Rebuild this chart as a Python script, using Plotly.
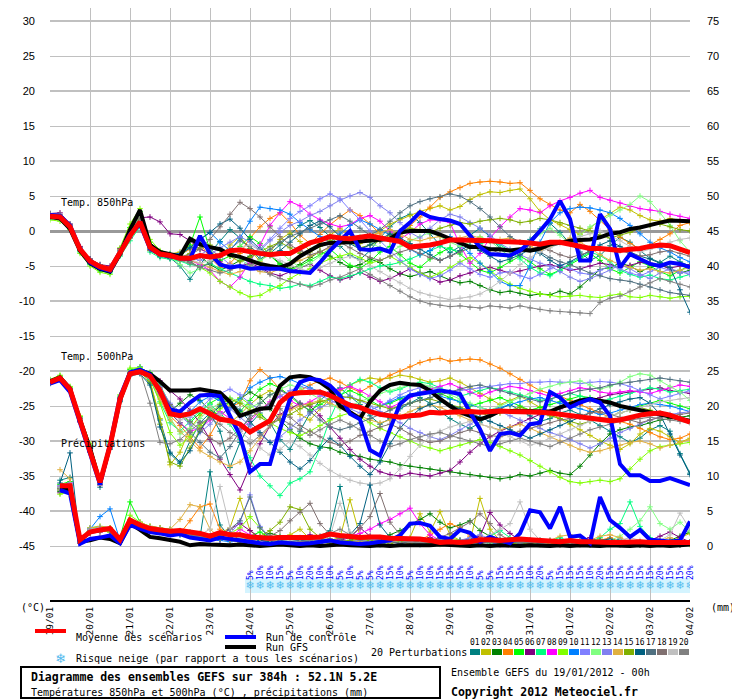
import plotly.graph_objects as go

# ---------------- DATA ----------------
hours = list(range(0, 385, 6))                 # 0..384 h, every 6 h (65 steps)
day_hours = list(range(0, 385, 24))
day_labels = ["19/01", "20/01", "21/01", "22/01", "23/01", "24/01", "25/01", "26/01", "27/01",
              "28/01", "29/01", "30/01", "31/01", "01/02", "02/02", "03/02", "04/02"]
pr_hours = hours[1:]                           # precipitation starts at +6 h

member_names = ["%02d" % i for i in range(1, 21)]
member_colors = ["#008080", "#c0c000", "#008000", "#ff8000", "#00ff00", "#800080", "#00ff80",
                 "#ff00ff", "#80ff00", "#0080ff", "#8080ff", "#80ff80", "#8080f0", "#e0b040",
                 "#80b000", "#006080", "#507080", "#807070", "#c0c0c0", "#808080"]

# --- 850 hPa temperature (degC) ---
t850_mean = [2.1, 2.0, 0.6, -2.6, -4.3, -5.1, -5.5, -3.0, -0.7, 1.3,
             -2.3, -3.3, -3.5, -3.9, -3.9, -3.5, -3.7, -3.5, -2.8, -2.7,
             -3.0, -3.2, -3.4, -3.2, -3.2, -2.4, -1.7, -1.3, -0.8, -1.0,
             -1.1, -0.9, -0.7, -1.0, -1.2, -1.5, -2.3, -2.2, -2.0, -1.7,
             -1.3, -1.3, -1.3, -1.4, -1.4, -1.5, -1.5, -1.6, -1.7, -1.9,
             -1.6, -1.6, -1.9, -2.2, -2.5, -2.5, -2.6, -2.8, -2.6, -2.5,
             -2.2, -2.0, -2.1, -2.6, -3.1]
t850_ctrl = [2.3, 2.2, 0.8, -2.5, -4.5, -5.3, -5.7, -3.2, -0.5, 1.0,
             -2.5, -3.3, -3.6, -3.9, -4.0, -0.7, -3.2, -4.8, -5.2, -5.0,
             -5.4, -5.3, -5.4, -5.4, -5.7, -5.9, -6.0, -4.5, -2.8, -1.4,
             0.0, -2.6, -2.7, -2.5, -3.0, 0.0, 1.2, 2.7, 2.0, 1.7,
             1.5, 1.0, -0.7, -2.3, -3.3, -3.4, -3.5, -2.8, -1.6, 0.0,
             1.7, 4.3, 1.7, -4.2, -4.2, 2.4, 0.3, -5.2, -3.3, -4.0,
             -4.7, -5.0, -4.5, -4.7, -5.2]
t850_gfs = [2.0, 1.8, 0.3, -2.8, -4.6, -5.4, -5.8, -3.3, 0.2, 3.0,
            -2.0, -3.0, -3.3, -3.6, -1.1, -1.9, -2.3, -2.6, -3.4, -3.7,
            -4.2, -4.7, -5.0, -5.2, -4.7, -3.6, -2.8, -2.0, -1.7, -1.7,
            -1.6, -1.5, -1.4, -1.3, -1.1, -0.2, 0.0, 0.0, 0.0, -0.5,
            -1.1, -1.8, -2.3, -2.3, -2.6, -2.6, -2.8, -2.6, -2.8, -2.5,
            -1.9, -1.7, -1.4, -1.3, -1.2, -0.9, -0.4, -0.2, 0.3, 0.5,
            0.9, 1.2, 1.5, 1.5, 1.4]

t850_p01 = [2.4, 2.2, 0.9, -2.3, -4.0, -5.3, -5.8, -3.2, -0.9, 1.0, -2.0, -3.4, -3.8,
            -5.0, -6.9, -4.8, -3.1, -1.5, 0.2, -1.0, -2.5, -4.0, -3.2, -2.0, -0.5, 0.8,
            1.5, 0.5, -0.8, -2.2, -3.5, -4.1, -2.8, -1.0, 0.6, 1.8, 2.4, 1.2, -0.4,
            -2.0, -3.1, -2.2, -0.6, 0.4, -0.8, -2.5, -3.8, -2.9, -1.2, 0.3, 1.1, -0.2,
            -1.8, -3.0, -4.2, -3.5, -2.1, -0.9, -1.6, -2.8, -3.9, -4.5, -3.6, -4.4, -5.0]
t850_p02 = [2.0, 1.9, 0.5, -2.8, -4.6, -5.2, -5.4, -2.6, -0.3, 1.8, -2.0, -3.0, -3.3,
            -3.0, -2.2, -1.0, -2.5, -3.8, -2.0, -0.8, -2.6, -4.4, -3.0, -1.2, -0.3, -1.5,
            -2.8, -1.8, -0.6, 0.4, -0.5, -1.8, -1.2, 0.0, 1.0, 1.6, 2.2, 2.8, 3.2,
            3.6, 3.0, 3.5, 4.5, 5.2, 5.6, 5.5, 5.8, 6.0, 4.6, 2.8, 1.6, 0.9,
            0.2, -0.5, 0.4, 1.6, 2.5, 3.4, 3.0, 2.2, 1.6, 1.4, 1.8, 1.5, 1.2]
t850_p03 = [2.2, 2.1, 0.7, -2.5, -4.2, -5.0, -5.6, -3.1, -0.8, 1.2, -2.5, -3.5, -3.6,
            -4.0, -4.4, -3.6, -4.8, -5.6, -5.0, -4.2, -3.6, -2.8, -3.5, -4.6, -5.4, -4.8,
            -3.8, -2.9, -3.6, -4.5, -5.2, -4.8, -4.0, -4.5, -5.4, -6.1, -6.5, -6.2, -5.8,
            -6.4, -7.0, -7.4, -7.2, -7.8, -8.4, -8.8, -8.6, -8.9, -9.2, -9.0, -9.1, -8.6,
            -9.0, -8.0, -6.8, -5.5, -5.2, -4.6, -5.0, -5.8, -5.2, -4.8, -5.4, -6.0, -5.6]
t850_p04 = [2.3, 2.0, 0.6, -2.7, -4.4, -5.4, -5.7, -3.4, -1.0, 0.9, -2.8, -3.6, -3.7,
            -3.4, -2.6, -1.8, -3.8, -5.2, -4.6, -3.2, -1.0, 0.6, 1.8, 2.6, 1.2, -0.6,
            -1.8, -0.5, 0.9, 2.0, 3.0, 2.2, 1.0, -0.4, -1.5, -0.8, 0.8, 2.0, 3.4,
            4.8, 5.6, 6.2, 6.8, 7.0, 7.1, 7.0, 6.8, 6.9, 5.8, 4.6, 3.8, 3.0,
            2.6, 3.8, 2.8, 1.5, 0.2, -0.9, -1.8, -2.6, -2.0, -1.2, -0.4, 0.8, 1.2]
t850_p05 = [2.0, 1.8, 0.4, -2.9, -4.7, -5.6, -5.8, -2.8, 0.5, 2.8, -1.6, -3.0, -3.4,
            -3.8, -2.0, 2.0, -2.8, -4.2, -3.6, -2.2, -0.8, -1.8, -3.5, -4.8, -5.6, -5.0,
            -4.2, -3.3, -2.6, -3.8, -4.9, -5.3, -4.4, -3.0, -2.2, -3.4, -4.6, -5.2, -4.0,
            -3.1, -2.4, -3.3, -4.4, -5.6, -6.0, -5.2, -4.3, -3.6, -4.4, -5.4, -6.2, -5.6,
            -4.8, -4.0, -3.2, -4.2, -5.4, -6.0, -5.2, -4.4, -5.0, -5.8, -6.4, -5.6, -4.9]
t850_p06 = [2.5, 2.6, 1.0, -2.2, -4.0, -4.8, -5.0, -2.5, 0.0, 1.9, 2.0, 1.3, -0.4,
            -0.5, -1.4, -2.6, -3.2, -4.4, -5.4, -5.0, -4.6, -5.2, -6.0, -6.4, -5.8, -5.2,
            -4.7, -5.6, -6.4, -7.0, -6.6, -5.9, -6.6, -7.2, -6.8, -6.1, -5.4, -6.0, -6.6,
            -7.3, -7.0, -6.4, -6.0, -5.5, -5.2, -5.6, -6.0, -5.7, -5.3, -5.0, -4.8, -5.2,
            -5.6, -5.4, -5.0, -4.6, -4.8, -5.2, -4.9, -4.5, -4.6, -5.0, -5.3, -5.0, -4.8]
t850_p07 = [1.9, 1.7, 0.3, -3.0, -4.8, -5.7, -6.0, -3.6, -1.4, 0.6, -3.0, -3.8, -4.0,
            -4.3, -4.8, -5.0, -4.6, -5.4, -6.0, -6.6, -7.2, -7.6, -7.8, -8.2, -8.0, -7.6,
            -7.8, -7.2, -6.6, -6.8, -6.4, -6.0, -5.4, -5.0, -4.8, -4.5, -4.0, -3.4, -2.8,
            -2.2, -2.6, -3.0, -2.4, -1.8, -1.5, -2.0, -2.8, -4.0, -5.2, -6.0, -6.4, -5.6,
            -4.6, -3.8, -3.0, -3.5, -4.4, -5.6, -6.2, -6.6, -6.3, -6.8, -7.0, -6.6, -6.2]
t850_p08 = [2.1, 2.0, 0.6, -2.6, -4.4, -5.2, -5.5, -3.0, -0.6, 1.4, -2.4, -3.4, -3.6,
            -3.7, -4.2, -4.8, -5.6, -7.2, -8.0, -6.6, -4.4, -2.0, 0.8, 2.6, 4.2, 3.6,
            2.4, 1.6, 1.0, 0.6, 0.9, 1.8, 2.2, 1.4, 0.0, -1.2, -0.2, 1.0, 1.6,
            1.5, 1.2, -2.0, -4.6, -3.2, -1.0, 0.6, 2.0, 3.2, 3.0, 2.6, 3.6, 4.3,
            4.8, 5.4, 5.8, 4.8, 4.4, 4.0, 3.5, 3.2, 3.0, 2.8, 2.4, 2.1, 1.8]
t850_p09 = [1.6, 1.4, 0.2, -3.2, -5.0, -5.9, -6.2, -2.4, 1.0, 3.2, -1.2, -2.8, -3.2,
            -3.5, -4.4, -5.2, -6.0, -7.2, -8.0, -8.8, -9.4, -9.2, -8.4, -7.8, -6.8, -6.0,
            -5.4, -4.6, -4.0, -3.6, -3.2, -3.8, -4.6, -4.2, -3.6, -4.4, -5.2, -6.0, -6.6,
            -6.0, -5.2, -4.4, -3.8, -4.6, -5.6, -6.8, -7.6, -8.2, -8.6, -9.0, -9.2, -9.4,
            -9.3, -9.2, -9.4, -9.5, -9.2, -9.0, -9.4, -9.5, -9.2, -9.4, -9.6, -9.4, -9.3]
t850_p10 = [2.2, 2.1, 0.8, -2.4, -4.1, -4.9, -5.3, -2.9, -0.5, 1.5, -2.2, -3.2, -3.3,
            -3.2, -2.4, -1.2, -0.2, -1.6, -2.8, -1.0, 1.4, 3.4, 3.2, 3.0, 2.4, 1.2,
            0.2, -0.8, -1.6, -0.4, 0.8, 1.6, 1.0, 0.2, -0.6, -1.4, -2.6, -3.4, -2.8,
            -1.6, -0.8, -2.0, -3.2, -4.6, -5.8, -7.2, -7.8, -7.8, -5.0, -1.6, 1.2, 2.6,
            3.2, 3.4, 3.3, 3.0, 2.6, 1.8, 0.8, -0.4, -1.6, -2.4, -3.0, -3.8, -4.4]
t850_p11 = [2.0, 1.9, 0.5, -2.7, -4.5, -5.3, -5.7, -3.2, -0.9, 1.1, -2.6, -3.5, -3.7,
            -3.9, -4.2, -3.4, -2.6, -3.6, -4.8, -5.2, -4.0, -2.6, -1.2, 0.4, 1.8, 2.8,
            3.6, 4.6, 5.3, 4.6, 3.0, 1.6, 0.0, -1.4, -2.8, -4.2, -5.4, -6.2, -6.8,
            -6.4, -5.6, -4.6, -5.4, -6.2, -6.6, -6.0, -5.8, -6.4, -6.8, -6.2, -5.4, -4.8,
            -5.4, -6.0, -6.2, -5.6, -5.0, -5.4, -6.0, -6.4, -5.8, -5.2, -5.6, -6.0, -5.8]
t850_p12 = [1.8, 1.7, 0.4, -2.9, -4.6, -5.4, -5.9, -3.3, -0.5, 2.2, -2.4, -3.3, -3.7,
            -4.8, -6.0, -5.4, -4.4, -3.6, -2.8, -4.0, -5.0, -4.2, -3.4, -3.0, -4.2, -5.2,
            -4.6, -3.6, -2.6, -1.8, -1.2, -0.8, -1.6, -2.4, -3.0, -2.2, -1.4, -0.8, -0.2,
            -0.8, -1.6, -2.2, -1.6, -0.8, -1.4, -2.6, -3.6, -2.8, -1.6, -0.4, 0.4, -0.6,
            -1.8, -0.6, 0.6, 1.4, 2.2, 3.0, 3.8, 5.0, 4.2, 2.6, 0.8, -1.4, -3.0]
t850_p13 = [2.3, 2.2, 0.9, -2.4, -4.2, -5.0, -5.4, -2.8, -0.2, 1.6, -2.1, -3.1, -3.4,
            -3.6, -3.8, -4.2, -3.4, -2.4, -1.6, -0.8, -1.6, -2.8, -1.4, -0.2, 0.8, 1.4,
            2.2, 2.8, 3.6, 4.4, 5.0, 5.5, 4.8, 3.6, 2.6, 1.2, -0.2, -1.0, 0.4,
            1.6, 2.4, 2.0, 1.2, 0.4, -0.6, -1.8, -2.6, -3.4, -4.0, -4.6, -5.0, -5.8,
            -6.6, -7.2, -6.8, -6.2, -5.6, -4.8, -5.4, -6.2, -6.8, -6.0, -5.4, -5.8, -6.2]
t850_p14 = [2.1, 1.9, 0.5, -2.7, -4.4, -5.1, -5.5, -3.1, -0.7, 1.3, -2.4, -3.3, -3.6,
            -4.0, -4.2, -4.6, -5.2, -5.8, -6.2, -5.8, -5.2, -5.8, -6.0, -5.4, -4.8, -4.2,
            -3.6, -3.0, -2.4, -1.8, -1.4, -1.0, -0.6, -0.2, 0.2, -0.4, -1.2, -1.4, -1.0,
            -0.8, -1.2, -1.0, -0.6, -1.0, -1.4, -1.2, -1.0, -1.6, -2.2, -2.8, -2.2, -1.6,
            -1.0, -1.6, -2.4, -3.4, -4.2, -4.8, -5.2, -5.6, -5.4, -5.8, -6.0, -5.6, -5.2]
t850_p15 = [2.2, 2.0, 0.6, -2.6, -4.3, -5.2, -5.6, -3.0, -0.4, 1.6, -2.2, -3.2, -3.5,
            -3.8, -3.2, -2.4, -2.0, -2.8, -3.6, -4.4, -3.8, -3.0, -2.2, -1.6, -2.4, -3.2,
            -3.0, -2.2, -1.4, -0.8, -1.6, -2.4, -2.0, -1.4, -0.6, 0.0, 0.4, 0.2, -0.2,
            0.4, 0.8, 1.2, 1.0, 1.4, 1.6, 1.8, 1.6, 1.2, 1.4, 1.8, 1.6, 1.2,
            0.8, 0.4, 0.0, -0.6, -1.0, -0.6, -0.2, 0.4, 0.8, 1.0, 0.6, 0.2, 0.0]
t850_p16 = [2.0, 1.8, 0.4, -2.8, -4.6, -5.5, -5.8, -3.4, -0.9, 1.1, -2.7, -3.6, -3.9,
            -3.4, -2.4, -1.2, -0.2, 1.0, 1.7, 0.4, -1.2, -2.6, -3.4, -2.8, -1.6, -0.4,
            0.8, 1.4, 0.6, -0.8, -1.8, -2.6, -2.0, -1.2, -0.4, -1.0, -1.8, -2.6, -3.4,
            -4.2, -3.6, -2.8, -2.0, -2.8, -3.6, -4.4, -4.0, -3.4, -2.6, -3.2, -4.2, -5.0,
            -4.4, -3.6, -2.8, -2.0, -1.4, -2.2, -3.0, -3.6, -4.0, -4.6, -5.2, -8.4, -11.6]
t850_p17 = [2.4, 2.3, 0.8, -2.5, -4.3, -5.1, -5.4, -3.0, -0.6, 1.4, -2.3, -3.3, -3.5,
            -3.6, -4.4, -5.2, -4.6, -3.6, -2.6, -1.4, -2.2, -3.4, -2.6, -1.6, -0.8, -0.2,
            0.4, 1.0, 1.6, 2.2, 1.4, 0.4, -0.6, 0.2, 1.4, 2.6, 3.6, 4.2, 4.6,
            4.9, 5.3, 5.0, 4.2, 3.2, 2.0, 0.6, -0.8, -1.6, -2.6, -3.0, -3.8, -4.4,
            -4.8, -5.4, -6.0, -6.4, -6.8, -7.0, -7.2, -7.6, -8.0, -8.4, -8.8, -9.0, -9.2]
t850_p18 = [2.5, 2.4, 1.0, -2.3, -4.0, -4.8, -5.2, -2.7, -0.2, 1.8, -2.2, -3.1, -3.4,
            -3.7, -3.4, -2.6, -1.2, 0.6, 2.4, 4.1, 3.2, 2.0, 0.6, -0.8, -2.0, -2.8,
            -3.4, -3.0, -2.2, -1.6, -2.4, -3.2, -3.8, -4.2, -3.6, -3.0, -2.6, -3.2, -3.8,
            -4.2, -3.6, -3.0, -2.4, -2.0, -2.6, -3.2, -3.6, -3.0, -2.6, -2.2, -2.8, -3.4,
            -3.8, -3.4, -3.0, -2.6, -2.4, -2.8, -3.2, -3.6, -3.4, -3.0, -2.8, -3.2, -3.6]
t850_p19 = [2.2, 2.1, 0.7, -2.5, -4.3, -5.1, -5.5, -3.0, -0.8, 1.2, -2.4, -3.3, -3.6,
            -3.8, -4.0, -4.6, -4.2, -3.6, -3.0, -2.4, -2.0, -2.8, -3.6, -4.2, -4.8, -5.4,
            -5.8, -5.2, -4.6, -4.0, -3.6, -4.2, -5.0, -5.8, -6.6, -7.4, -8.2, -8.8, -9.2,
            -9.5, -9.8, -9.6, -9.4, -9.0, -8.2, -7.2, -6.0, -4.8, -3.8, -3.0, -2.4, -1.8,
            -1.4, -0.8, -0.4, 0.0, -0.6, -1.4, -2.2, -3.0, -2.6, -2.0, -1.6, -1.2, -1.0]
t850_p20 = [2.0, 1.9, 0.4, -2.8, -4.5, -5.3, -5.7, -3.2, -1.0, 1.0, -2.6, -3.4, -3.8,
            -4.2, -4.6, -5.2, -5.6, -6.0, -5.6, -5.0, -4.8, -5.4, -6.2, -6.8, -7.2, -7.6,
            -8.0, -7.6, -7.0, -6.6, -6.0, -5.4, -6.2, -7.0, -7.8, -8.6, -9.4, -10.0, -10.4,
            -10.6, -10.8, -10.7, -10.9, -11.0, -10.7, -10.8, -11.0, -10.7, -11.0, -11.2, -11.4, -11.5,
            -11.6, -11.7, -11.8, -10.2, -9.6, -9.3, -8.6, -8.0, -7.4, -6.8, -7.2, -7.6, -8.0]

# --- 500 hPa temperature (degC) ---
t500_mean = [-21.6, -21.0, -22.6, -26.9, -31.1, -35.9, -30.7, -24.0, -20.4, -20.1,
             -20.7, -22.8, -26.1, -26.4, -26.1, -25.4, -26.1, -26.9, -27.1, -27.6,
             -28.7, -27.9, -27.1, -24.5, -23.3, -23.1, -23.0, -23.0, -23.5, -24.2,
             -24.9, -25.2, -25.8, -26.2, -26.4, -26.6, -26.4, -26.3, -25.9, -26.0,
             -25.9, -25.8, -25.8, -25.9, -25.8, -25.7, -25.8, -25.8, -25.9, -25.9,
             -26.0, -26.2, -26.4, -26.6, -26.8, -26.9, -27.1, -27.0, -26.6, -26.3,
             -26.1, -26.0, -26.3, -26.8, -27.3]
t500_ctrl = [-21.8, -21.3, -23.0, -27.3, -31.5, -36.2, -30.5, -23.7, -20.2, -19.8,
             -20.5, -23.0, -25.5, -25.8, -24.5, -23.5, -23.4, -23.6, -26.4, -29.2,
             -34.4, -33.3, -33.3, -28.3, -24.0, -21.6, -21.1, -21.3, -22.1, -23.5,
             -26.1, -26.9, -31.3, -32.1, -28.3, -24.7, -23.5, -23.3, -23.0, -22.8,
             -23.0, -23.3, -25.9, -28.3, -31.4, -29.0, -28.8, -29.2, -27.6, -27.4,
             -23.0, -23.8, -25.2, -24.5, -24.0, -24.5, -26.4, -33.3, -34.9, -34.9,
             -35.7, -35.7, -35.3, -35.8, -36.3]
t500_gfs = [-21.5, -20.9, -22.5, -27.0, -31.0, -36.0, -30.8, -24.2, -20.3, -19.9,
            -20.4, -21.5, -22.8, -22.8, -22.8, -22.6, -22.9, -23.1, -24.4, -26.4,
            -25.9, -25.4, -25.3, -22.1, -20.9, -20.7, -20.9, -21.6, -22.6, -25.0,
            -25.9, -26.8, -24.4, -22.8, -22.0, -21.7, -21.9, -22.0, -22.8, -24.0,
            -25.0, -25.9, -26.4, -26.9, -26.4, -25.7, -25.7, -25.7, -25.7, -25.7,
            -25.8, -25.2, -24.7, -24.2, -24.0, -24.3, -24.5, -25.0, -25.3, -25.6,
            -25.9, -26.1, -26.4, -26.7, -27.1]

t500_p01 = [-21.8, -21.2, -22.8, -27.2, -31.6, -36.6, -31.2, -24.4, -20.6, -19.4, -21.6, -27.0, -31.8,
            -33.2, -30.0, -27.4, -26.0, -28.6, -33.8, -30.2, -27.6, -26.0, -27.4, -29.8, -31.2, -28.6,
            -26.0, -24.2, -23.0, -22.4, -23.6, -24.8, -26.4, -27.6, -26.8, -25.4, -24.6, -23.8, -24.6,
            -25.8, -26.8, -27.6, -28.2, -27.4, -26.2, -25.4, -24.8, -25.6, -26.4, -27.2, -26.8, -26.0,
            -25.6, -26.2, -27.0, -27.8, -28.6, -29.4, -30.2, -29.6, -28.4, -27.8, -28.6, -31.8, -34.6]
t500_p02 = [-21.4, -20.8, -22.4, -26.6, -30.8, -35.6, -30.4, -23.8, -20.0, -19.8, -21.4, -26.8, -33.4,
            -31.6, -28.2, -26.4, -25.2, -26.0, -27.4, -26.2, -24.8, -23.6, -22.8, -23.4, -24.6, -26.2,
            -27.0, -25.4, -24.0, -22.8, -22.0, -21.4, -21.0, -21.2, -21.0, -20.6, -20.8, -21.2, -21.6,
            -21.4, -21.0, -21.6, -22.4, -23.2, -24.0, -24.8, -24.2, -23.6, -24.4, -25.2, -26.0, -26.8,
            -27.6, -28.4, -29.2, -30.0, -30.6, -31.2, -30.4, -29.0, -28.2, -28.6, -29.4, -30.2, -29.6]
t500_p03 = [-21.6, -21.1, -22.7, -27.0, -31.2, -36.0, -30.8, -24.1, -20.5, -20.3, -21.0, -23.4, -25.8,
            -24.6, -23.4, -24.2, -25.6, -26.4, -25.2, -24.0, -23.0, -23.8, -25.4, -27.0, -28.4, -29.6,
            -30.4, -30.8, -31.0, -31.6, -32.0, -32.2, -32.6, -32.8, -33.0, -33.4, -33.6, -33.8, -34.0,
            -34.2, -34.4, -34.6, -34.8, -35.0, -35.2, -35.4, -35.2, -34.8, -35.0, -34.6, -34.2, -34.6,
            -34.8, -33.6, -32.0, -30.4, -29.0, -28.4, -28.0, -27.8, -27.4, -27.0, -26.8, -26.6, -26.4]
t500_p04 = [-21.5, -20.9, -22.5, -26.8, -31.0, -35.8, -30.6, -23.9, -20.3, -20.0, -20.9, -23.6, -26.4,
            -27.8, -29.4, -31.0, -29.2, -26.6, -25.0, -24.6, -21.4, -19.8, -21.0, -22.6, -23.4, -22.8,
            -22.0, -21.4, -21.0, -21.6, -22.4, -23.0, -22.2, -21.4, -20.6, -20.0, -19.4, -18.8, -18.4,
            -18.2, -18.6, -18.4, -18.3, -18.4, -19.0, -19.6, -20.4, -21.2, -22.0, -22.8, -23.2, -23.6,
            -24.2, -24.8, -25.4, -26.0, -26.6, -27.2, -27.6, -28.2, -28.8, -29.4, -29.8, -29.6, -29.0]
t500_p05 = [-21.3, -20.7, -22.3, -26.5, -30.6, -35.4, -30.2, -23.6, -19.8, -19.6, -20.2, -22.0, -24.8,
            -26.2, -27.4, -26.0, -24.6, -23.8, -24.6, -25.8, -24.2, -22.6, -21.8, -22.4, -23.6, -24.8,
            -25.6, -24.8, -24.0, -23.4, -22.8, -23.4, -24.2, -25.0, -24.6, -24.0, -23.6, -23.0, -22.6,
            -23.2, -23.8, -24.4, -25.0, -24.6, -24.2, -23.8, -24.4, -25.0, -25.6, -25.2, -24.8, -24.4,
            -24.0, -23.6, -23.8, -24.2, -24.6, -25.0, -25.4, -25.0, -24.6, -24.2, -24.6, -25.0, -25.4]
t500_p06 = [-21.7, -21.2, -22.9, -27.3, -31.5, -36.3, -31.0, -24.2, -20.5, -20.2, -20.6, -21.4, -22.8,
            -24.0, -25.6, -27.4, -29.8, -32.6, -34.8, -37.0, -33.6, -30.4, -27.8, -26.2, -25.4, -24.6,
            -25.0, -26.4, -28.0, -29.6, -31.2, -32.6, -33.6, -34.4, -34.8, -35.0, -34.6, -34.8, -35.0,
            -34.6, -34.2, -33.0, -31.6, -30.4, -29.4, -28.6, -28.0, -27.4, -26.8, -26.2, -25.8, -25.4,
            -25.0, -24.6, -24.2, -23.8, -23.4, -23.2, -23.0, -22.8, -22.6, -22.4, -22.8, -23.0, -23.2]
t500_p07 = [-21.5, -21.0, -22.6, -26.9, -31.0, -35.8, -30.6, -24.0, -20.4, -20.2, -21.2, -24.4, -27.4,
            -28.6, -27.2, -25.6, -24.8, -26.0, -27.6, -29.8, -32.4, -35.0, -36.4, -37.8, -36.0, -35.4,
            -34.4, -31.0, -26.8, -23.6, -22.0, -21.2, -21.6, -22.4, -23.0, -22.6, -22.0, -21.6, -21.8,
            -22.4, -23.0, -23.6, -23.2, -22.8, -22.4, -22.6, -23.0, -23.4, -23.8, -24.2, -24.0, -23.6,
            -23.2, -23.6, -24.0, -24.4, -24.0, -23.6, -23.2, -22.8, -22.4, -22.6, -23.0, -22.8, -22.6]
t500_p08 = [-21.6, -21.1, -22.7, -27.0, -31.2, -36.0, -30.8, -24.1, -20.5, -20.2, -21.0, -23.2, -26.0,
            -27.4, -28.6, -28.2, -27.0, -25.8, -26.8, -28.4, -27.2, -25.6, -24.4, -23.6, -24.2, -25.0,
            -24.4, -23.6, -23.0, -22.6, -22.2, -22.8, -23.6, -24.4, -25.2, -24.6, -23.8, -23.0, -22.6,
            -22.2, -21.8, -22.4, -23.0, -23.6, -23.0, -22.6, -22.2, -22.4, -22.8, -23.2, -23.6, -23.2,
            -22.8, -22.4, -22.6, -23.0, -23.2, -23.0, -22.8, -23.0, -23.2, -22.8, -22.4, -22.0, -22.2]
t500_p09 = [-21.2, -20.6, -22.2, -26.4, -30.4, -35.2, -30.0, -23.4, -19.6, -19.5, -20.8, -24.6, -28.8,
            -30.6, -29.4, -27.8, -26.6, -25.4, -24.6, -23.8, -24.8, -26.2, -27.4, -28.2, -28.8, -29.2,
            -28.6, -27.8, -27.0, -26.4, -26.0, -26.6, -27.4, -28.2, -28.8, -29.4, -30.0, -30.6, -31.0,
            -31.4, -31.0, -30.6, -30.2, -29.8, -30.2, -30.8, -31.4, -32.0, -32.8, -33.6, -34.4, -35.2,
            -35.8, -36.0, -35.8, -35.6, -35.8, -35.4, -34.0, -32.6, -31.4, -30.8, -30.6, -30.4, -30.2]
t500_p10 = [-21.6, -21.0, -22.6, -26.8, -31.0, -35.8, -30.6, -23.9, -20.3, -20.0, -20.6, -22.6, -25.4,
            -26.6, -25.8, -24.4, -23.6, -24.2, -25.4, -24.0, -22.4, -21.6, -21.0, -20.8, -21.2, -21.8,
            -22.4, -23.0, -23.6, -24.2, -24.8, -25.2, -25.6, -25.0, -24.4, -23.8, -23.4, -23.0, -23.2,
            -23.6, -24.0, -24.4, -24.8, -25.2, -25.6, -25.2, -24.8, -24.4, -24.0, -23.8, -24.2, -24.6,
            -25.0, -25.4, -25.8, -26.2, -26.0, -25.6, -25.2, -24.8, -24.6, -24.8, -25.0, -25.4, -25.8]
t500_p11 = [-21.4, -20.9, -22.5, -26.7, -30.9, -35.7, -30.5, -23.8, -20.2, -19.9, -20.4, -22.2, -24.6,
            -25.8, -26.6, -25.4, -24.0, -23.2, -22.6, -23.4, -24.6, -25.6, -24.8, -23.6, -22.8, -22.2,
            -22.6, -23.4, -24.2, -24.8, -25.4, -26.0, -25.6, -25.0, -24.2, -23.4, -22.8, -22.4, -22.2,
            -22.6, -23.0, -22.8, -22.6, -22.4, -22.2, -22.0, -21.8, -21.8, -21.6, -21.6, -21.5, -21.6,
            -21.6, -21.8, -21.6, -21.5, -21.6, -21.8, -22.2, -22.8, -23.4, -24.0, -23.6, -23.2, -22.8]
t500_p12 = [-21.3, -20.8, -22.4, -26.6, -30.8, -35.6, -30.4, -23.7, -20.1, -19.8, -20.6, -22.8, -26.6,
            -29.0, -28.2, -26.8, -25.4, -24.6, -23.8, -24.4, -25.2, -24.6, -23.4, -22.6, -22.0, -22.4,
            -23.2, -24.0, -24.8, -25.4, -25.0, -24.4, -23.8, -23.2, -22.8, -22.4, -22.0, -21.8, -22.2,
            -22.8, -23.4, -24.0, -24.6, -25.2, -25.6, -25.0, -24.4, -23.8, -23.2, -22.6, -22.2, -21.8,
            -21.6, -21.4, -22.0, -22.6, -22.2, -21.6, -20.8, -20.4, -20.6, -21.4, -22.2, -23.0, -24.2]
t500_p13 = [-21.7, -21.1, -22.7, -27.1, -31.3, -36.1, -30.9, -24.2, -20.6, -20.3, -20.8, -22.6, -25.2,
            -26.4, -27.6, -28.8, -27.6, -26.2, -25.4, -26.6, -27.8, -29.0, -30.2, -29.4, -28.2, -27.0,
            -26.0, -25.2, -24.6, -24.0, -23.6, -24.2, -25.0, -25.8, -26.6, -27.4, -28.2, -28.8, -29.4,
            -29.8, -29.2, -28.4, -27.6, -26.8, -26.2, -25.8, -26.4, -27.0, -27.6, -28.2, -28.8, -29.2,
            -29.8, -30.4, -31.0, -30.4, -29.6, -28.8, -28.2, -27.6, -27.0, -26.6, -26.2, -26.0, -25.8]
t500_p14 = [-21.6, -21.0, -22.6, -26.9, -31.1, -35.9, -30.7, -24.0, -20.4, -20.1, -21.0, -24.0, -27.0,
            -28.6, -30.0, -31.4, -32.2, -33.0, -33.6, -33.0, -31.4, -29.6, -27.8, -26.4, -25.6, -25.0,
            -24.6, -24.2, -24.6, -25.2, -25.8, -26.4, -27.0, -27.4, -27.0, -26.4, -25.8, -25.2, -24.8,
            -25.2, -25.8, -26.4, -27.0, -27.6, -28.0, -28.4, -28.0, -27.6, -28.2, -28.8, -29.4, -30.0,
            -30.6, -31.2, -31.6, -31.4, -31.0, -30.6, -30.2, -30.0, -30.4, -31.0, -30.6, -30.2, -29.8]
t500_p15 = [-21.5, -20.9, -22.5, -26.8, -31.0, -35.8, -30.6, -23.9, -20.3, -20.0, -21.8, -27.6, -33.0,
            -33.6, -31.0, -28.4, -26.2, -24.8, -24.0, -24.6, -25.6, -26.6, -27.4, -27.0, -26.2, -25.4,
            -24.8, -24.4, -24.0, -23.6, -23.8, -24.2, -24.6, -25.0, -25.4, -25.0, -24.6, -24.2, -24.0,
            -24.4, -24.8, -25.2, -25.6, -26.0, -26.4, -26.0, -25.6, -25.2, -25.6, -26.0, -26.4, -26.8,
            -27.2, -27.6, -27.2, -26.8, -26.4, -26.0, -25.6, -25.2, -25.6, -26.0, -26.4, -26.8, -27.2]
t500_p16 = [-21.7, -21.2, -22.8, -27.1, -31.4, -36.2, -31.0, -24.3, -20.7, -20.4, -22.0, -28.0, -31.6,
            -33.0, -31.4, -28.6, -26.4, -25.0, -24.4, -25.6, -27.2, -28.8, -30.2, -31.6, -33.0, -34.0,
            -32.8, -31.0, -29.6, -30.6, -32.2, -33.6, -34.8, -33.0, -30.4, -28.2, -26.6, -25.4, -24.8,
            -24.4, -24.8, -25.4, -26.0, -26.6, -27.2, -27.8, -28.4, -29.0, -29.6, -29.0, -28.4, -27.8,
            -27.2, -26.6, -26.0, -25.4, -24.8, -24.4, -24.0, -23.8, -24.6, -26.2, -29.0, -32.0, -34.8]
t500_p17 = [-21.6, -21.0, -22.6, -27.0, -31.2, -36.0, -30.8, -24.1, -20.5, -20.2, -20.8, -23.0, -26.0,
            -27.4, -28.8, -30.2, -31.6, -32.4, -30.8, -28.6, -26.4, -24.6, -23.4, -22.8, -23.4, -24.6,
            -25.8, -27.0, -28.0, -28.4, -28.0, -27.4, -26.8, -26.2, -25.6, -25.0, -24.6, -24.2, -23.8,
            -23.4, -23.0, -22.6, -22.2, -22.0, -22.4, -22.8, -23.2, -23.6, -24.0, -24.4, -24.0, -23.6,
            -23.2, -22.8, -22.6, -22.4, -22.0, -21.8, -21.6, -21.4, -21.2, -21.0, -21.2, -21.4, -21.6]
t500_p18 = [-21.5, -21.0, -22.5, -26.8, -31.0, -35.8, -30.6, -23.9, -20.3, -20.0, -20.8, -22.4, -24.8,
            -26.0, -27.2, -28.4, -29.6, -30.4, -29.6, -28.2, -26.8, -25.6, -24.6, -25.4, -26.6, -27.8,
            -28.6, -29.4, -30.2, -30.6, -30.0, -29.2, -28.6, -28.0, -27.6, -28.2, -29.0, -29.8, -30.2,
            -30.0, -29.4, -28.8, -28.4, -28.8, -29.2, -29.4, -29.0, -28.6, -28.2, -27.8, -27.4, -27.0,
            -26.8, -26.4, -26.0, -25.8, -26.2, -26.6, -27.0, -27.4, -27.0, -26.6, -26.4, -26.2, -26.0]
t500_p19 = [-21.6, -21.1, -22.7, -27.0, -31.2, -36.0, -30.8, -24.1, -20.5, -20.2, -20.9, -22.8, -25.6,
            -27.0, -26.4, -25.6, -25.0, -26.2, -27.4, -28.6, -29.8, -31.0, -32.0, -31.2, -30.0, -30.8,
            -32.0, -33.2, -34.2, -35.0, -35.6, -36.0, -36.2, -36.0, -35.4, -34.0, -32.2, -30.6, -29.4,
            -28.6, -28.0, -27.6, -27.2, -27.6, -28.0, -28.6, -29.4, -30.0, -30.6, -30.2, -29.6, -29.0,
            -28.4, -27.8, -27.2, -26.8, -26.4, -26.0, -25.6, -25.2, -24.8, -24.4, -24.2, -24.0, -23.8]
t500_p20 = [-21.4, -20.9, -22.5, -26.7, -30.9, -35.7, -30.5, -23.8, -20.2, -20.0, -24.6, -30.2, -30.4,
            -29.8, -28.6, -27.4, -26.8, -27.6, -28.8, -29.6, -30.4, -29.2, -27.8, -26.8, -27.6, -28.4,
            -29.2, -28.4, -27.6, -27.0, -27.6, -28.4, -29.2, -30.0, -30.8, -30.4, -29.8, -29.4, -29.0,
            -28.8, -29.2, -29.6, -30.0, -30.4, -30.8, -30.4, -30.0, -29.6, -30.0, -30.4, -30.8, -30.2,
            -29.6, -29.0, -28.4, -28.0, -27.6, -27.2, -27.0, -26.8, -26.6, -26.8, -27.0, -27.2, -27.4]

# --- precipitation (mm), from +6 h ---
pr_mean = [8.6, 8.6, 0.9, 2.0, 2.3, 2.5, 0.9, 3.7, 3.0, 2.5,
           2.3, 2.1, 2.2, 2.0, 1.8, 1.4, 1.9, 1.6, 1.6, 1.3,
           1.2, 1.1, 1.2, 1.2, 1.1, 1.2, 1.3, 1.7, 1.5, 1.3,
           1.2, 1.3, 1.3, 1.1, 1.1, 1.0, 1.0, 0.8, 0.5, 0.6,
           0.5, 0.6, 0.9, 0.9, 0.8, 0.9, 1.0, 0.9, 0.8, 0.6,
           0.6, 0.8, 0.6, 0.6, 0.5, 0.5, 0.5, 0.6, 0.6, 0.5,
           0.5, 0.5, 0.5, 0.5]
pr_ctrl = [8.0, 7.5, 0.3, 1.0, 1.2, 1.5, 0.4, 3.0, 2.5, 2.0,
           1.8, 1.5, 1.7, 1.2, 1.0, 0.8, 1.2, 1.0, 0.8, 0.5,
           0.4, 0.3, 0.5, 0.4, 0.3, 0.4, 0.6, 0.8, 0.5, 0.4,
           0.3, 0.4, 0.6, 0.8, 1.5, 3.2, 3.3, 2.9, 1.3, 1.0,
           2.3, 1.9, 0.6, 1.3, 0.8, 0.4, 1.8, 5.1, 4.8, 2.5,
           5.6, 1.3, 1.5, 0.4, 7.0, 3.7, 2.6, 1.3, 2.3, 0.9,
           0.8, 0.6, 0.8, 3.5]
pr_gfs = [8.2, 8.0, 0.6, 0.8, 1.2, 1.0, 0.4, 3.2, 2.3, 1.3,
          1.1, 0.9, 0.6, 0.1, 0.3, 0.2, 0.1, 0.1, 0.2, 0.1, 0.0, 0.1, 0.2,
          0.1, 0.0, 0.1, 0.0, 0.1, 0.2, 0.1, 0.0, 0.0, 0.1, 0.0, 0.1, 0.1,
          0.0, 0.1, 0.2, 0.1, 0.0, 0.0, 0.1, 0.0, 0.1, 0.0, 0.0, 0.1, 0.0,
          0.0, 0.1, 0.0, 0.1, 0.0, 0.0, 0.1, 0.0, 0.0, 0.1, 0.0, 0.1, 0.0, 0.1, 0.2]

pr_p01 = [9.4, 9.8, 0.6, 2.0, 2.4, 2.2, 0.8, 3.6, 3.2, 2.4,
          2.2, 2.0, 1.6, 1.4, 1.2, 10.6, 3.0, 1.2, 0.8, 0.6, 0.4, 0.8, 1.2,
          0.6, 0.4, 0.8, 1.4, 2.2, 8.5, 1.6, 0.6, 0.4, 0.2, 0.6, 1.0, 0.4,
          0.2, 0.4, 1.2, 0.8, 0.4, 0.2, 0.6, 1.6, 0.8, 0.4, 0.2, 0.6, 0.4,
          0.2, 0.4, 0.6, 0.4, 0.2, 0.2, 0.6, 1.0, 0.4, 0.2, 0.2, 0.4, 0.6, 0.2, 0.4]
pr_p02 = [8.0, 8.4, 0.4, 1.8, 2.2, 2.0, 0.6, 3.2, 2.8, 2.2,
          2.0, 1.8, 2.0, 1.6, 1.4, 1.0, 1.8, 2.6, 6.8, 2.2, 1.0, 0.6, 0.8,
          1.6, 2.4, 1.0, 0.6, 0.8, 1.2, 6.6, 1.4, 0.6, 0.8, 0.4, 0.6, 1.2,
          4.6, 2.0, 4.9, 1.6, 0.8, 0.6, 6.8, 2.4, 0.8, 0.4, 0.6, 0.8, 0.4,
          0.6, 0.4, 0.2, 0.4, 0.6, 1.0, 0.4, 0.2, 0.4, 0.6, 0.4, 0.8, 0.6, 1.2, 1.8]
pr_p03 = [7.8, 8.2, 0.8, 2.4, 2.6, 2.4, 1.0, 3.8, 3.2, 2.6,
          2.4, 2.2, 2.0, 1.8, 1.6, 1.2, 1.4, 1.0, 0.8, 0.6, 1.2, 1.8, 1.4,
          1.0, 0.6, 0.8, 1.2, 0.6, 0.4, 0.8, 1.4, 1.2, 0.8, 1.6, 2.2, 3.0,
          3.8, 4.6, 3.4, 2.6, 3.0, 3.6, 2.2, 1.4, 0.8, 0.6, 0.4, 0.6, 0.8,
          0.4, 0.2, 0.6, 0.8, 0.4, 0.2, 0.4, 0.6, 0.4, 0.2, 0.4, 0.6, 0.8, 1.4, 2.0]
pr_p04 = [8.4, 8.8, 0.6, 2.2, 2.4, 2.6, 0.8, 3.4, 3.0, 2.8,
          2.6, 2.2, 1.8, 3.6, 5.6, 6.0, 2.4, 1.6, 1.0, 0.6, 0.8, 1.2, 0.8,
          0.6, 0.4, 0.6, 0.8, 1.0, 0.8, 0.6, 0.4, 0.8, 1.2, 0.8, 0.6, 0.4,
          0.8, 1.6, 2.4, 3.2, 2.6, 1.4, 0.8, 0.6, 0.4, 0.6, 0.8, 0.4, 0.2,
          0.4, 0.6, 0.4, 0.2, 0.4, 0.8, 1.2, 0.6, 0.4, 0.2, 0.4, 0.6, 0.4, 0.2, 0.4]
pr_p05 = [8.8, 9.2, 0.8, 2.6, 2.8, 2.6, 1.2, 6.3, 3.4, 2.8,
          2.6, 2.4, 2.2, 2.0, 1.8, 1.4, 1.2, 1.0, 0.8, 1.4, 2.0, 1.2, 0.8,
          0.6, 0.8, 1.2, 0.8, 0.6, 1.0, 1.4, 0.8, 0.6, 0.4, 0.6, 0.8, 0.6,
          0.4, 0.6, 0.8, 0.6, 0.4, 0.2, 0.4, 0.6, 0.8, 0.6, 0.4, 0.6, 0.4,
          0.2, 0.4, 0.6, 0.4, 0.2, 0.4, 0.6, 0.8, 0.4, 0.2, 0.4, 0.6, 0.4, 0.2, 0.6]
pr_p06 = [7.6, 8.0, 0.4, 1.8, 2.0, 2.2, 0.6, 3.0, 2.8, 2.4,
          2.2, 2.0, 1.8, 1.6, 1.4, 1.2, 1.6, 2.4, 3.2, 2.2, 1.2, 0.8, 0.6,
          0.8, 1.2, 1.6, 1.0, 0.6, 0.8, 1.2, 2.6, 1.4, 0.8, 0.6, 0.4, 0.6,
          0.8, 1.2, 0.6, 0.4, 0.6, 1.0, 1.4, 4.8, 3.0, 1.8, 0.8, 0.6, 0.4,
          0.6, 0.4, 0.6, 0.8, 1.2, 0.6, 0.4, 0.2, 0.4, 0.6, 0.8, 1.4, 2.0, 1.2, 0.6]
pr_p07 = [8.2, 8.6, 0.6, 2.2, 2.4, 2.2, 0.8, 3.4, 3.0, 2.4,
          2.2, 2.0, 1.8, 1.6, 1.4, 1.2, 1.0, 0.8, 0.6, 0.8, 1.0, 0.8, 0.6,
          0.4, 0.6, 0.8, 0.6, 0.4, 0.6, 0.8, 0.6, 0.4, 0.6, 0.8, 0.6, 0.4,
          0.6, 0.8, 0.6, 0.4, 0.2, 0.4, 0.6, 1.4, 2.2, 1.2, 0.6, 0.4, 0.6,
          0.8, 1.2, 0.6, 0.4, 0.6, 1.2, 2.4, 3.2, 6.3, 2.8, 1.2, 0.6, 0.8, 0.4, 0.6]
pr_p08 = [8.6, 9.0, 0.8, 2.4, 2.6, 2.4, 1.0, 3.6, 3.2, 2.6,
          2.4, 2.2, 1.8, 1.6, 1.2, 1.0, 0.8, 1.2, 2.4, 1.6, 0.8, 0.6, 0.4,
          0.6, 0.8, 0.6, 0.4, 0.6, 1.0, 1.4, 1.8, 2.4, 3.2, 3.8, 4.6, 5.4,
          3.2, 1.6, 0.8, 0.6, 0.4, 0.6, 0.8, 0.4, 0.2, 0.4, 0.6, 0.8, 0.6,
          0.4, 0.2, 0.4, 0.6, 0.4, 0.2, 0.4, 0.6, 0.4, 0.2, 0.4, 0.6, 0.4, 0.2, 0.4]
pr_p09 = [7.4, 7.8, 0.6, 2.0, 2.2, 2.0, 0.6, 4.4, 3.4, 2.6,
          2.4, 2.0, 1.8, 1.6, 1.4, 1.2, 1.4, 1.8, 2.6, 4.2, 2.6, 1.2, 0.8,
          0.6, 0.4, 0.6, 0.8, 1.0, 0.6, 0.4, 0.6, 0.8, 0.4, 0.6, 0.8, 0.6,
          0.4, 0.6, 0.8, 1.2, 0.8, 0.4, 0.6, 0.8, 0.4, 0.2, 0.4, 0.6, 0.4,
          0.2, 0.4, 0.6, 0.4, 0.2, 0.4, 0.6, 0.4, 0.2, 0.4, 0.6, 0.8, 0.6, 0.4, 0.2]
pr_p10 = [8.4, 8.8, 0.6, 2.4, 4.2, 5.3, 0.8, 3.4, 3.0, 2.4,
          2.2, 2.0, 1.6, 1.4, 1.2, 1.0, 0.8, 0.6, 0.8, 1.2, 0.8, 0.6, 0.4,
          0.6, 0.8, 1.0, 0.8, 0.6, 0.4, 0.6, 0.8, 1.2, 0.8, 0.6, 0.4, 0.6,
          0.8, 0.6, 0.4, 0.6, 0.8, 1.0, 0.6, 0.4, 0.2, 0.4, 0.6, 0.8, 0.6,
          0.4, 0.6, 0.8, 0.6, 0.4, 0.2, 0.4, 0.6, 0.4, 0.2, 0.4, 0.6, 0.4, 0.2, 0.4]
pr_p11 = [8.2, 8.6, 0.6, 2.2, 2.4, 2.2, 0.8, 3.2, 2.8, 2.4,
          2.2, 2.0, 1.8, 1.6, 1.4, 1.2, 1.4, 1.8, 3.4, 7.3, 2.8, 1.2, 0.8,
          0.6, 0.4, 0.6, 0.8, 0.6, 0.4, 0.6, 0.8, 0.6, 0.4, 0.6, 0.8, 0.6,
          0.4, 0.6, 0.8, 0.6, 0.4, 0.2, 0.4, 0.6, 0.8, 0.6, 0.4, 0.6, 0.4,
          0.2, 0.4, 0.6, 0.4, 0.2, 0.4, 0.6, 0.4, 0.2, 0.4, 0.6, 0.4, 0.2, 0.4, 0.6]
pr_p12 = [8.0, 8.4, 0.6, 2.2, 2.4, 2.2, 0.8, 3.2, 3.0, 2.4,
          2.2, 2.0, 1.8, 1.6, 1.4, 1.2, 1.0, 0.8, 0.6, 0.8, 1.0, 0.8, 0.6,
          0.4, 0.6, 0.8, 0.6, 0.4, 0.6, 0.8, 0.6, 0.4, 0.6, 0.8, 0.6, 0.4,
          0.6, 0.4, 0.2, 0.4, 0.6, 0.8, 0.6, 0.4, 0.6, 0.8, 0.6, 0.4, 0.2,
          0.4, 0.6, 0.8, 0.6, 0.4, 0.6, 0.8, 1.4, 2.4, 3.6, 5.6, 3.2, 2.4, 3.4, 2.0]
pr_p13 = [8.6, 9.0, 0.6, 2.4, 2.6, 2.4, 1.0, 3.6, 3.2, 2.6,
          2.4, 2.2, 2.0, 1.8, 1.6, 1.4, 1.2, 1.0, 0.8, 1.0, 1.2, 1.0, 0.8,
          0.6, 0.8, 1.0, 0.8, 0.6, 0.4, 0.6, 0.8, 1.0, 0.8, 0.6, 0.4, 0.6,
          0.8, 0.6, 0.4, 0.6, 0.8, 1.2, 1.6, 1.0, 0.6, 0.4, 0.6, 0.8, 0.6,
          0.4, 0.6, 0.4, 0.2, 0.4, 0.6, 0.4, 0.2, 0.4, 0.6, 0.4, 0.2, 0.4, 0.6, 0.4]
pr_p14 = [10.9, 9.6, 0.8, 2.6, 2.8, 2.6, 1.0, 3.8, 3.4, 2.8,
          2.6, 2.4, 3.8, 5.9, 5.6, 2.4, 1.2, 0.8, 0.6, 0.8, 1.0, 0.8, 0.6,
          0.4, 0.6, 0.8, 0.6, 0.4, 0.6, 0.8, 0.6, 0.4, 0.6, 0.8, 0.6, 0.4,
          0.6, 0.8, 0.6, 0.4, 0.6, 0.8, 1.2, 0.8, 0.6, 0.4, 0.6, 0.8, 0.6,
          0.8, 1.4, 1.6, 1.2, 0.8, 1.4, 1.6, 1.2, 0.6, 0.4, 0.6, 0.8, 1.2, 0.6, 0.4]
pr_p15 = [8.2, 8.6, 0.6, 2.2, 2.4, 2.2, 0.8, 3.4, 3.0, 2.4,
          2.2, 2.0, 1.8, 1.6, 1.4, 1.2, 1.4, 1.6, 1.2, 1.0, 1.4, 2.2, 3.4,
          5.6, 5.2, 2.4, 1.2, 0.8, 0.6, 0.8, 1.0, 0.8, 0.6, 0.4, 0.6, 0.8,
          0.6, 0.4, 0.6, 0.8, 0.6, 0.4, 0.6, 0.8, 0.6, 0.4, 0.2, 0.4, 0.6,
          0.4, 0.2, 0.4, 0.6, 0.4, 0.2, 0.4, 0.6, 0.4, 0.2, 0.4, 0.6, 0.4, 0.2, 0.4]
pr_p16 = [9.0, 13.3, 0.6, 2.2, 2.4, 2.2, 0.8, 3.4, 3.0, 2.4,
          2.2, 2.0, 1.8, 1.6, 1.4, 1.2, 1.0, 1.2, 1.6, 1.2, 0.8, 0.6, 0.4,
          0.6, 0.8, 0.6, 0.4, 0.6, 0.8, 1.6, 3.2, 8.7, 3.0, 1.2, 0.8, 0.6,
          0.4, 0.6, 0.8, 0.6, 0.4, 0.6, 0.8, 0.6, 0.4, 0.6, 0.8, 0.6, 0.4,
          0.6, 0.8, 0.6, 0.4, 0.6, 0.8, 1.0, 0.6, 0.4, 0.6, 0.8, 0.6, 0.4, 0.6, 0.4]
pr_p17 = [8.4, 8.8, 0.6, 2.4, 2.6, 2.4, 0.8, 3.4, 3.0, 2.6,
          2.4, 2.2, 2.0, 1.8, 1.6, 1.4, 1.6, 2.4, 3.6, 7.0, 2.6, 1.2, 0.8,
          0.6, 0.8, 0.6, 0.4, 0.6, 0.8, 0.6, 0.4, 0.6, 0.8, 0.6, 0.4, 0.6,
          0.8, 0.6, 0.4, 0.6, 0.8, 0.6, 0.4, 0.6, 0.8, 0.6, 0.4, 0.6, 0.8,
          0.6, 0.4, 0.6, 0.8, 0.6, 0.4, 0.6, 0.8, 0.6, 0.4, 0.6, 0.8, 0.6, 0.4, 0.6]
pr_p18 = [8.0, 8.4, 0.6, 2.2, 2.4, 2.2, 0.8, 3.2, 2.8, 2.4,
          2.2, 2.0, 1.8, 1.6, 1.4, 1.2, 1.0, 0.8, 0.6, 0.8, 1.0, 1.4, 2.2,
          3.6, 4.8, 6.1, 3.2, 1.6, 1.0, 1.4, 2.6, 4.2, 7.5, 3.4, 1.6, 0.8,
          0.6, 0.8, 1.2, 1.8, 2.6, 3.4, 4.6, 3.2, 1.6, 0.8, 0.6, 0.4, 0.6,
          0.8, 0.6, 0.4, 0.6, 0.8, 0.6, 0.4, 0.6, 0.8, 0.6, 0.4, 0.6, 0.8, 0.6, 0.4]
pr_p19 = [8.4, 8.8, 0.6, 2.4, 2.6, 2.4, 0.8, 3.4, 3.0, 2.6,
          2.4, 2.2, 2.0, 1.8, 1.6, 2.4, 8.5, 2.6, 1.2, 0.8, 0.6, 0.4, 0.6,
          0.8, 0.6, 0.4, 0.6, 1.4, 6.1, 2.0, 0.8, 0.6, 0.4, 0.6, 0.8, 0.6,
          0.4, 0.6, 0.8, 0.6, 0.4, 0.6, 0.8, 1.6, 2.4, 3.2, 6.3, 2.4, 0.8,
          0.6, 0.4, 0.6, 0.8, 0.6, 0.4, 0.6, 0.8, 1.2, 0.8, 0.6, 0.8, 1.6, 4.7, 2.4]
pr_p20 = [8.2, 8.6, 0.6, 2.2, 2.4, 2.2, 0.8, 3.4, 3.0, 2.4,
          2.2, 2.0, 1.8, 1.6, 1.4, 1.2, 1.0, 0.8, 0.6, 0.8, 1.0, 0.8, 0.6,
          0.4, 0.6, 0.8, 1.2, 1.8, 2.4, 1.6, 0.8, 0.6, 0.4, 0.6, 0.8, 0.6,
          0.4, 0.6, 0.8, 0.6, 0.4, 0.6, 0.8, 0.6, 0.4, 0.6, 0.8, 0.6, 0.4,
          0.2, 0.4, 0.6, 0.4, 0.2, 0.4, 0.6, 0.4, 0.2, 0.4, 0.6, 0.4, 0.2, 0.4, 0.6]

# --- snow risk (% of scenarios), from 24/01 00h (120 h) every 6 h ---
snow_hours = list(range(120, 385, 6))
snow_pct = [5, 10, 10, 15, 5, 10, 20, 10, 10, 5, 10, 5, 5,
            20, 15, 10, 5, 10, 10, 15, 15, 15, 10, 5, 5, 15, 15, 15, 10, 20, 5, 15,
            15, 15, 10, 20, 15, 15, 15, 15, 15, 20, 15, 15, 20]

t850_members = [t850_p01, t850_p02, t850_p03, t850_p04, t850_p05, t850_p06, t850_p07, t850_p08, t850_p09, t850_p10,
                t850_p11, t850_p12, t850_p13, t850_p14, t850_p15, t850_p16, t850_p17, t850_p18, t850_p19, t850_p20]
t500_members = [t500_p01, t500_p02, t500_p03, t500_p04, t500_p05, t500_p06, t500_p07, t500_p08, t500_p09, t500_p10,
                t500_p11, t500_p12, t500_p13, t500_p14, t500_p15, t500_p16, t500_p17, t500_p18, t500_p19, t500_p20]
pr_members = [pr_p01, pr_p02, pr_p03, pr_p04, pr_p05, pr_p06, pr_p07, pr_p08, pr_p09, pr_p10,
              pr_p11, pr_p12, pr_p13, pr_p14, pr_p15, pr_p16, pr_p17, pr_p18, pr_p19, pr_p20]

# ---------------- STYLE / LAYOUT ----------------
# The page body has an 8 px default margin, so the figure is placed 8 px right/down.
OFF = 8
W, H = 732, 692
ML, MR, MT, MB = 42, 50, 0, 100          # plot area = page x 50..690, page y 8..600
PW, PH = W - ML - MR, H - MT - MB
PXU = 7.0                                 # px per degree / per mm
Y_TOP = 30.0 + (21 - (MT + OFF)) / PXU    # value 30 sits at page y = 21
Y_BOT = Y_TOP - PH / PXU
PR_OFFSET = 45.0                          # right axis (mm) = left axis + 45
SNOW_ROW_Y = 30.0 - (586 - 21) / PXU       # flakes at page y = 586

MONO = "DejaVu Sans Mono"
SANS = "Liberation Sans"


def PX(px):   # page pixel -> paper x
    return (px - OFF - ML) / PW


def PY(py):   # page pixel -> paper y
    return (MT + PH - (py - OFF)) / PH


fig = go.Figure()

for k in range(20):
    col = member_colors[k]
    mk = dict(symbol="cross-thin", size=4, color=col, line=dict(width=1, color=col))
    fig.add_trace(go.Scatter(x=hours, y=t850_members[k], mode="lines+markers",
                             line=dict(color=col, width=1), marker=mk, showlegend=False, hoverinfo="skip"))
    fig.add_trace(go.Scatter(x=hours, y=t500_members[k], mode="lines+markers",
                             line=dict(color=col, width=1), marker=mk, showlegend=False, hoverinfo="skip"))
    fig.add_trace(go.Scatter(x=pr_hours, y=pr_members[k], mode="lines+markers", yaxis="y2",
                             line=dict(color=col, width=1), marker=mk, showlegend=False, hoverinfo="skip"))

for arrs, col, wd in [((t850_gfs, t500_gfs, pr_gfs), "#000000", 4),
                      ((t850_ctrl, t500_ctrl, pr_ctrl), "#0000ff", 4),
                      ((t850_mean, t500_mean, pr_mean), "#ff0000", 5)]:
    fig.add_trace(go.Scatter(x=hours, y=arrs[0], mode="lines", line=dict(color=col, width=wd),
                             showlegend=False, hoverinfo="skip"))
    fig.add_trace(go.Scatter(x=hours, y=arrs[1], mode="lines", line=dict(color=col, width=wd),
                             showlegend=False, hoverinfo="skip"))
    fig.add_trace(go.Scatter(x=pr_hours, y=arrs[2], mode="lines", yaxis="y2", line=dict(color=col, width=wd),
                             showlegend=False, hoverinfo="skip"))

fig.add_trace(go.Scatter(x=snow_hours, y=[SNOW_ROW_Y] * len(snow_hours), xaxis="x2", mode="text",
                         text=["\u2744"] * len(snow_hours),
                         textfont=dict(family="DejaVu Sans", size=11, color="#55bbee"),
                         showlegend=False, hoverinfo="skip"))
fig.add_trace(go.Scatter(x=[], y=[], yaxis="y3", showlegend=False, hoverinfo="skip"))

shapes = []
shapes.append(dict(type="rect", xref="x", yref="paper", x0=snow_hours[0] - 3, x1=snow_hours[-1] + 3,
                   y0=PY(593), y1=PY(578), fillcolor="#d4f4ff", line=dict(width=0), layer="between"))
shapes.append(dict(type="rect", xref="paper", yref="paper", x0=PX(35), x1=PX(66), y0=PY(633), y1=PY(629),
                   fillcolor="#ff0000", line=dict(width=0)))
shapes.append(dict(type="rect", xref="paper", yref="paper", x0=PX(225), x1=PX(256), y0=PY(639), y1=PY(635),
                   fillcolor="#0000ff", line=dict(width=0)))
shapes.append(dict(type="rect", xref="paper", yref="paper", x0=PX(225), x1=PX(256), y0=PY(649), y1=PY(645),
                   fillcolor="#000000", line=dict(width=0)))
shapes.append(dict(type="rect", xref="paper", yref="paper", x0=PX(21), x1=PX(440), y0=PY(698), y1=PY(667),
                   line=dict(color="#000000", width=2), fillcolor="rgba(0,0,0,0)"))

annotations = []


def txt(s, px, py, size=10, bold=False, color="#000000", xanchor="left", family=MONO):
    annotations.append(dict(text=("<b>%s</b>" % s) if bold else s, x=PX(px), y=PY(py), xref="paper", yref="paper",
                            showarrow=False, xanchor=xanchor, yanchor="middle",
                            font=dict(family=family, size=size, color=color)))


for k, (nm, col) in enumerate(zip(member_names, member_colors)):
    x0 = 470 + 11 * k
    shapes.append(dict(type="rect", xref="paper", yref="paper", x0=PX(x0), x1=PX(x0 + 10),
                       y0=PY(655), y1=PY(649), fillcolor=col, line=dict(width=0)))
    txt(nm, x0 + 5, 642, size=8, xanchor="center")

txt("Temp. 850hPa", 59, 202)
txt("Temp. 500hPa", 59, 357)
txt("Précipitations", 59, 443)
txt("(°C)", 19, 607)
txt("(mm)", 709, 607)
txt("Moyenne des scénarios", 74, 637)
txt("Run de contrôle", 264, 637)
txt("Run GFS", 264, 647)
txt("\u2744", 60, 658, size=13, color="#55bbee", xanchor="center", family="DejaVu Sans")
txt("Risque neige (par rapport a tous les scénarios)", 74, 658)
txt("20 Perturbations", 369, 652)
txt("Diagramme des ensembles GEFS sur 384h : 52.1N 5.2E", 29, 677, size=11.5, bold=True)
txt("Températures 850hPa et 500hPa (°C) , précipitations (mm)", 29, 692)
txt("Ensemble GEFS du 19/01/2012 - 00h", 449, 672)
txt("Copyright 2012 Meteociel.fr", 449, 692, size=11.5, bold=True)

left_ticks = list(range(-45, 31, 5))
right_ticks = list(range(0, 76, 5))
ten_ticks = list(range(-40, 31, 10))

fig.update_layout(
    width=W, height=H, margin=dict(l=ML, r=MR, t=MT, b=MB, pad=0),
    paper_bgcolor="white", plot_bgcolor="white", showlegend=False,
    xaxis=dict(range=[0, 384], tickvals=day_hours, ticktext=day_labels, tickangle=-90,
               tickfont=dict(family=MONO, size=9.5, color="#000000"), ticklabelstandoff=1,
               showgrid=True, gridcolor="#c0c0c0", gridwidth=1, zeroline=False,
               showline=True, linecolor="#000000", linewidth=2, ticks="", fixedrange=True),
    xaxis2=dict(range=[0, 384], overlaying="x", side="top", anchor="free", position=PY(580),
                tickvals=snow_hours, ticktext=["%d%%" % v for v in snow_pct], tickangle=-90,
                tickfont=dict(family=MONO, size=8, color="#0000ff"),
                showgrid=False, zeroline=False, showline=False, ticks=""),
    yaxis=dict(range=[Y_BOT, Y_TOP], tickvals=left_ticks, ticktext=[str(v) for v in left_ticks],
               tickfont=dict(family=SANS, size=11, color="#000000"), ticklabelstandoff=14,
               showgrid=True, gridcolor="#c0c0c0", gridwidth=1, zeroline=False, showline=False, ticks=""),
    yaxis2=dict(range=[Y_BOT + PR_OFFSET, Y_TOP + PR_OFFSET], overlaying="y", side="right",
                tickvals=right_ticks, ticktext=[str(v) for v in right_ticks],
                tickfont=dict(family=SANS, size=11, color="#000000"), ticklabelstandoff=16,
                showgrid=False, zeroline=False, showline=False, ticks=""),
    yaxis3=dict(range=[Y_BOT, Y_TOP], overlaying="y", side="left", tickvals=ten_ticks,
                showticklabels=False, showgrid=True, gridcolor="#c0c0c0", gridwidth=2,
                zeroline=True, zerolinecolor="#999999", zerolinewidth=3, showline=False, ticks=""),
    shapes=shapes, annotations=annotations,
)

fig.write_html("out.html")
